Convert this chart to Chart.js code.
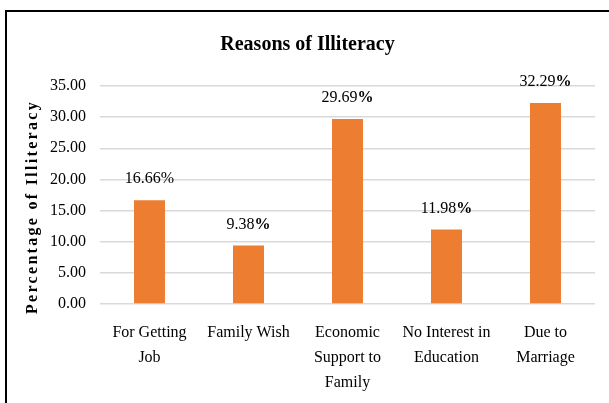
<!DOCTYPE html>
<html>
<head>
<meta charset="utf-8">
<script src="https://cdn.jsdelivr.net/npm/chart.js@4"></script>
<style>
  html, body { margin: 0; padding: 0; background: #fff; }
  #wrap { position: relative; width: 609px; height: 403px; overflow: hidden; }
  #frame { position: absolute; left: 5px; top: 10px; width: 700px; height: 500px;
           border-left: 2px solid #000; border-top: 2px solid #000; box-sizing: border-box; }
  canvas { position: absolute; left: 0; top: 0; }
</style>
</head>
<body>
<div id="wrap">
  <div id="frame"></div>
  <canvas id="c" width="609" height="403"></canvas>
</div>
<script>
const categories = [
  ["For Getting", "Job"],
  ["Family Wish"],
  ["Economic", "Support to", "Family"],
  ["No Interest in", "Education"],
  ["Due to", "Marriage"]
];
const values = [16.66, 9.38, 29.69, 11.98, 32.29];
const yTicks = [0, 5, 10, 15, 20, 25, 30, 35];
const chartTitle = "Reasons of Illiteracy";
const yTitle = "Percentage of Illiteracy";

const SERIF = '"Liberation Serif", "Times New Roman", serif';
const boldPercent = [false, true, true, true, true];

const labelPlugin = {
  id: 'valueLabels',
  afterDatasetsDraw(chart) {
    const ctx = chart.ctx;
    const meta = chart.getDatasetMeta(0);
    ctx.save();
    ctx.fillStyle = '#000';
    ctx.textBaseline = 'middle';
    meta.data.forEach((bar, i) => {
      const num = values[i].toFixed(2);
      const normalFont = '16px ' + SERIF;
      const pctFont = (boldPercent[i] ? 'bold ' : '') + '16px ' + SERIF;
      ctx.font = normalFont;
      const w1 = ctx.measureText(num).width;
      ctx.font = pctFont;
      const w2 = ctx.measureText('%').width;
      const x0 = bar.x - (w1 + w2) / 2;
      const y = bar.y - 21;
      ctx.textAlign = 'left';
      ctx.font = normalFont;
      ctx.fillText(num, x0, y);
      ctx.font = pctFont;
      ctx.fillText('%', x0 + w1, y);
    });
    ctx.restore();
  }
};

const yTitlePlugin = {
  id: 'yTitle',
  afterDraw(chart) {
    const ctx = chart.ctx;
    ctx.save();
    ctx.translate(33, 207);
    ctx.rotate(-Math.PI / 2);
    ctx.font = 'bold 16px ' + SERIF;
    ctx.letterSpacing = '2.3px';
    ctx.fillStyle = '#000';
    ctx.textAlign = 'center';
    ctx.textBaseline = 'middle';
    ctx.fillText(yTitle, 0, 0);
    ctx.restore();
  }
};

new Chart(document.getElementById('c'), {
  type: 'bar',
  data: {
    labels: categories,
    datasets: [{
      data: values,
      backgroundColor: '#ED7D31',
      borderWidth: 0,
      barPercentage: 0.313,
      categoryPercentage: 1
    }]
  },
  options: {
    responsive: false,
    animation: false,
    devicePixelRatio: 1,
    layout: { padding: { left: 20, right: 14, top: 0, bottom: 0 } },
    plugins: {
      legend: { display: false },
      tooltip: { enabled: false },
      title: {
        display: true,
        text: chartTitle,
        color: '#000',
        font: { family: SERIF, size: 20, weight: 'bold', lineHeight: 1.2 },
        padding: { top: 33, bottom: 29 }
      }
    },
    scales: {
      x: {
        grid: { display: false, drawTicks: false },
        border: { display: false },
        ticks: {
          color: '#000',
          padding: 16,
          maxRotation: 0,
          autoSkip: false,
          font: { family: SERIF, size: 16, lineHeight: 1.5625 }
        },
        afterFit(scale) { scale.height = 99; }
      },
      y: {
        min: 0,
        max: 35,
        afterBuildTicks(scale) { scale.ticks = yTicks.map(v => ({ value: v })); },
        grid: { color: '#d9d9d9', lineWidth: 1.5, drawTicks: false },
        border: { display: false },
        ticks: {
          color: '#000',
          padding: 14,
          font: { family: SERIF, size: 16 },
          callback: v => Number(v).toFixed(2)
        },
        afterFit(scale) { scale.width = 80; }
      }
    }
  },
  plugins: [labelPlugin, yTitlePlugin]
});
</script>
</body>
</html>
